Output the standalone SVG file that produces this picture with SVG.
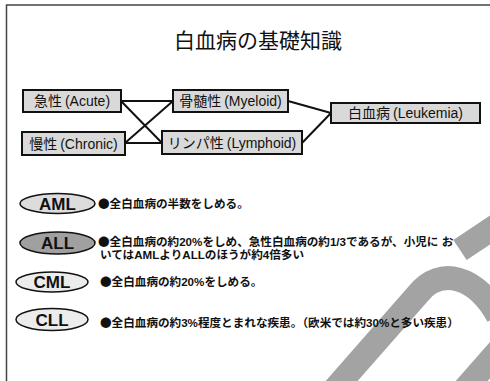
<svg xmlns="http://www.w3.org/2000/svg" width="490" height="381" viewBox="0 0 490 381">
<style>
.box{fill:#d9d9d9;stroke:#111;stroke-width:2}
.lbl{font-family:"Liberation Sans","Noto Sans CJK JP",sans-serif;font-size:14px;fill:#111;text-anchor:middle}
.con{stroke:#111;stroke-width:2;fill:none}
.ell{stroke:#111;stroke-width:1.5}
.etx{font-family:"Liberation Sans",Arial,sans-serif;font-size:17px;font-weight:bold;fill:#111;text-anchor:middle}
.bt{font-family:"Liberation Sans","Noto Sans CJK JP",sans-serif;font-size:11.6px;font-weight:bold;fill:#111}
.dot{font-family:"Noto Sans CJK JP",sans-serif}
.wm{stroke:#a3a3a3;stroke-width:24;fill:none}
</style>
<rect width="490" height="381" fill="#fff"/>
<path d="M6.5 381 V5 H490" fill="none" stroke="#444" stroke-width="1.5"/>
<g id="watermark">
<path class="wm" d="M332 392 L418 294 C440 266 476 276 498 316"/>
<path class="wm" d="M462 392 L506 342"/>
<path class="wm" d="M460 250 L505 220"/>
</g>
<text x="258" y="48" font-family="'Noto Sans CJK JP',sans-serif" font-size="21" text-anchor="middle" fill="#111">白血病の基礎知識</text>
<g id="connectors">
<path class="con" d="M121 101 H173"/>
<path class="con" d="M121 101 L162 143"/>
<path class="con" d="M125 143 H162"/>
<path class="con" d="M125 143 L173 101"/>
<path class="con" d="M288 101 L331 113"/>
<path class="con" d="M302 143 L331 113"/>
</g>
<g id="acute"><rect class="box" x="23" y="90" width="98" height="22"/><text class="lbl" x="72" y="106">急性<tspan dx="3">(Acute)</tspan></text></g>
<g id="chronic"><rect class="box" x="22" y="132" width="103" height="23"/><text class="lbl" x="73.5" y="148.5">慢性<tspan dx="3">(Chronic)</tspan></text></g>
<g id="myeloid"><rect class="box" x="173" y="90" width="115" height="22"/><text class="lbl" x="230.5" y="106">骨髄性<tspan dx="3">(Myeloid)</tspan></text></g>
<g id="lymphoid"><rect class="box" x="162" y="131" width="140" height="23"/><text class="lbl" x="232" y="147.5">リンパ性<tspan dx="3">(Lymphoid)</tspan></text></g>
<g id="leukemia"><rect class="box" x="331" y="103" width="149" height="20"/><text class="lbl" x="405.5" y="118">白血病<tspan dx="3">(Leukemia)</tspan></text></g>
<g id="aml"><ellipse class="ell" cx="57.5" cy="203.5" rx="37.5" ry="10" fill="#dcdcdc"/><text class="etx" x="57.5" y="209.5">AML</text><text class="bt" x="98" y="208"><tspan class="dot">●</tspan>全白血病の半数をしめる。</text></g>
<g id="all"><ellipse class="ell" cx="57.5" cy="243" rx="37.5" ry="11" fill="#a0a0a0"/><text class="etx" x="57.5" y="249">ALL</text><text class="bt" x="98" y="246"><tspan class="dot">●</tspan>全白血病の約20%をしめ、急性白血病の約1/3であるが、小児に お</text><text class="bt" x="100" y="259">いてはAMLよりALLのほうが約4倍多い</text></g>
<g id="cml"><ellipse class="ell" cx="52" cy="282" rx="36" ry="10" fill="#ececec"/><text class="etx" x="52" y="288">CML</text><text class="bt" x="100" y="286"><tspan class="dot">●</tspan>全白血病の約20%をしめる。</text></g>
<g id="cll"><ellipse class="ell" cx="52" cy="319.5" rx="36" ry="11" fill="#ececec"/><text class="etx" x="52" y="325.5">CLL</text><text class="bt" x="100" y="327"><tspan class="dot">●</tspan>全白血病の約3%程度とまれな疾患。（欧米では約30%と多い疾患）</text></g>
</svg>
